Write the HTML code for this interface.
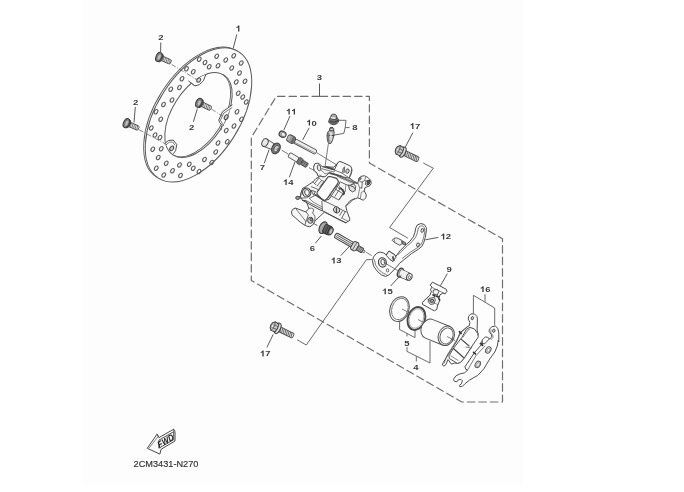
<!DOCTYPE html>
<html><head><meta charset="utf-8"><title>Rear brake caliper - parts diagram</title>
<style>
html,body{margin:0;padding:0;background:#ffffff;}
body{width:684px;height:492px;overflow:hidden;font-family:"Liberation Sans",sans-serif;}
svg{display:block;font-family:"Liberation Sans",sans-serif;}
</style></head><body>
<svg width="684" height="492" viewBox="0 0 684 492">
<defs><filter id="soft" x="-2%" y="-2%" width="104%" height="104%"><feGaussianBlur stdDeviation="0.45"/></filter></defs>
<rect x="0" y="0" width="684" height="492" fill="#ffffff"/>
<g filter="url(#soft)">
<rect x="82.5" y="0" width="440.5" height="486" fill="#fdfdfd"/>
<ellipse cx="196.9" cy="114.2" rx="41.6" ry="74.8" transform="rotate(32.3 196.9 114.2)" stroke="#5a5a5a" stroke-width="0.9" fill="none"/>
<ellipse cx="198.5" cy="114.9" rx="41.6" ry="74.8" transform="rotate(32.3 198.5 114.9)" stroke="#5a5a5a" stroke-width="1.0" fill="#fdfdfd"/>
<clipPath id="inclip"><ellipse cx="198.5" cy="115" rx="26.3" ry="47.4" transform="rotate(32.3 198.5 115)"/></clipPath>
<g clip-path="url(#inclip)">
<ellipse cx="196.9" cy="114.3" rx="26.3" ry="47.4" transform="rotate(32.3 196.9 114.3)" stroke="#5a5a5a" stroke-width="0.9" fill="none"/>
</g>
<ellipse cx="199.25" cy="59.25" rx="1.6" ry="2.3" transform="rotate(32.3 199.25 59.25)" stroke="#5c5c5c" stroke-width="1.05" fill="none"/>
<ellipse cx="205" cy="62.5" rx="1.6" ry="2.3" transform="rotate(32.3 205 62.5)" stroke="#5c5c5c" stroke-width="1.05" fill="none"/>
<ellipse cx="216.75" cy="56.25" rx="1.6" ry="2.3" transform="rotate(32.3 216.75 56.25)" stroke="#5c5c5c" stroke-width="1.05" fill="none"/>
<ellipse cx="225.75" cy="60" rx="1.6" ry="2.3" transform="rotate(32.3 225.75 60)" stroke="#5c5c5c" stroke-width="1.05" fill="none"/>
<ellipse cx="233.75" cy="55.75" rx="1.6" ry="2.3" transform="rotate(32.3 233.75 55.75)" stroke="#5c5c5c" stroke-width="1.05" fill="none"/>
<ellipse cx="241.25" cy="63" rx="1.6" ry="2.3" transform="rotate(32.3 241.25 63)" stroke="#5c5c5c" stroke-width="1.05" fill="none"/>
<ellipse cx="209.25" cy="66.75" rx="1.6" ry="2.3" transform="rotate(32.3 209.25 66.75)" stroke="#5c5c5c" stroke-width="1.05" fill="none"/>
<ellipse cx="218" cy="65.75" rx="1.6" ry="2.3" transform="rotate(32.3 218 65.75)" stroke="#5c5c5c" stroke-width="1.05" fill="none"/>
<ellipse cx="231.75" cy="68" rx="1.6" ry="2.3" transform="rotate(32.3 231.75 68)" stroke="#5c5c5c" stroke-width="1.05" fill="none"/>
<ellipse cx="239.5" cy="73" rx="1.6" ry="2.3" transform="rotate(32.3 239.5 73)" stroke="#5c5c5c" stroke-width="1.05" fill="none"/>
<ellipse cx="186.5" cy="68.75" rx="1.6" ry="2.3" transform="rotate(32.3 186.5 68.75)" stroke="#5c5c5c" stroke-width="1.05" fill="none"/>
<ellipse cx="193.25" cy="71.75" rx="1.6" ry="2.3" transform="rotate(32.3 193.25 71.75)" stroke="#5c5c5c" stroke-width="1.05" fill="none"/>
<ellipse cx="182" cy="78.75" rx="1.6" ry="2.3" transform="rotate(32.3 182 78.75)" stroke="#5c5c5c" stroke-width="1.05" fill="none"/>
<ellipse cx="170.75" cy="89.25" rx="1.6" ry="2.3" transform="rotate(32.3 170.75 89.25)" stroke="#5c5c5c" stroke-width="1.05" fill="none"/>
<ellipse cx="179.5" cy="87.5" rx="1.6" ry="2.3" transform="rotate(32.3 179.5 87.5)" stroke="#5c5c5c" stroke-width="1.05" fill="none"/>
<ellipse cx="163.5" cy="104.5" rx="1.6" ry="2.3" transform="rotate(32.3 163.5 104.5)" stroke="#5c5c5c" stroke-width="1.05" fill="none"/>
<ellipse cx="172" cy="100" rx="1.6" ry="2.3" transform="rotate(32.3 172 100)" stroke="#5c5c5c" stroke-width="1.05" fill="none"/>
<ellipse cx="236.25" cy="82" rx="1.6" ry="2.3" transform="rotate(32.3 236.25 82)" stroke="#5c5c5c" stroke-width="1.05" fill="none"/>
<ellipse cx="245" cy="81.25" rx="1.6" ry="2.3" transform="rotate(32.3 245 81.25)" stroke="#5c5c5c" stroke-width="1.05" fill="none"/>
<ellipse cx="238.25" cy="93.25" rx="1.6" ry="2.3" transform="rotate(32.3 238.25 93.25)" stroke="#5c5c5c" stroke-width="1.05" fill="none"/>
<ellipse cx="242.75" cy="97" rx="1.6" ry="2.3" transform="rotate(32.3 242.75 97)" stroke="#5c5c5c" stroke-width="1.05" fill="none"/>
<ellipse cx="246.25" cy="102" rx="1.6" ry="2.3" transform="rotate(32.3 246.25 102)" stroke="#5c5c5c" stroke-width="1.05" fill="none"/>
<ellipse cx="156" cy="111.75" rx="1.6" ry="2.3" transform="rotate(32.3 156 111.75)" stroke="#5c5c5c" stroke-width="1.05" fill="none"/>
<ellipse cx="160.75" cy="119.25" rx="1.6" ry="2.3" transform="rotate(32.3 160.75 119.25)" stroke="#5c5c5c" stroke-width="1.05" fill="none"/>
<ellipse cx="237" cy="111.75" rx="1.6" ry="2.3" transform="rotate(32.3 237 111.75)" stroke="#5c5c5c" stroke-width="1.05" fill="none"/>
<ellipse cx="241.5" cy="119.25" rx="1.6" ry="2.3" transform="rotate(32.3 241.5 119.25)" stroke="#5c5c5c" stroke-width="1.05" fill="none"/>
<ellipse cx="151.25" cy="128" rx="1.6" ry="2.3" transform="rotate(32.3 151.25 128)" stroke="#5c5c5c" stroke-width="1.05" fill="none"/>
<ellipse cx="234" cy="126" rx="1.6" ry="2.3" transform="rotate(32.3 234 126)" stroke="#5c5c5c" stroke-width="1.05" fill="none"/>
<ellipse cx="226.25" cy="130.5" rx="1.6" ry="2.3" transform="rotate(32.3 226.25 130.5)" stroke="#5c5c5c" stroke-width="1.05" fill="none"/>
<ellipse cx="155" cy="135" rx="1.6" ry="2.3" transform="rotate(32.3 155 135)" stroke="#5c5c5c" stroke-width="1.05" fill="none"/>
<ellipse cx="160" cy="137.5" rx="1.6" ry="2.3" transform="rotate(32.3 160 137.5)" stroke="#5c5c5c" stroke-width="1.05" fill="none"/>
<ellipse cx="152.75" cy="149.25" rx="1.6" ry="2.3" transform="rotate(32.3 152.75 149.25)" stroke="#5c5c5c" stroke-width="1.05" fill="none"/>
<ellipse cx="161.25" cy="148.75" rx="1.6" ry="2.3" transform="rotate(32.3 161.25 148.75)" stroke="#5c5c5c" stroke-width="1.05" fill="none"/>
<ellipse cx="158.25" cy="157.5" rx="1.6" ry="2.3" transform="rotate(32.3 158.25 157.5)" stroke="#5c5c5c" stroke-width="1.05" fill="none"/>
<ellipse cx="166.25" cy="163.25" rx="1.6" ry="2.3" transform="rotate(32.3 166.25 163.25)" stroke="#5c5c5c" stroke-width="1.05" fill="none"/>
<ellipse cx="156.25" cy="168.25" rx="1.6" ry="2.3" transform="rotate(32.3 156.25 168.25)" stroke="#5c5c5c" stroke-width="1.05" fill="none"/>
<ellipse cx="163.75" cy="175" rx="1.6" ry="2.3" transform="rotate(32.3 163.75 175)" stroke="#5c5c5c" stroke-width="1.05" fill="none"/>
<ellipse cx="172.5" cy="170.75" rx="1.6" ry="2.3" transform="rotate(32.3 172.5 170.75)" stroke="#5c5c5c" stroke-width="1.05" fill="none"/>
<ellipse cx="180.5" cy="175.5" rx="1.6" ry="2.3" transform="rotate(32.3 180.5 175.5)" stroke="#5c5c5c" stroke-width="1.05" fill="none"/>
<ellipse cx="179.5" cy="165" rx="1.6" ry="2.3" transform="rotate(32.3 179.5 165)" stroke="#5c5c5c" stroke-width="1.05" fill="none"/>
<ellipse cx="189.25" cy="164.25" rx="1.6" ry="2.3" transform="rotate(32.3 189.25 164.25)" stroke="#5c5c5c" stroke-width="1.05" fill="none"/>
<ellipse cx="193.25" cy="168.25" rx="1.6" ry="2.3" transform="rotate(32.3 193.25 168.25)" stroke="#5c5c5c" stroke-width="1.05" fill="none"/>
<ellipse cx="199" cy="171.5" rx="1.6" ry="2.3" transform="rotate(32.3 199 171.5)" stroke="#5c5c5c" stroke-width="1.05" fill="none"/>
<ellipse cx="204.5" cy="159.5" rx="1.6" ry="2.3" transform="rotate(32.3 204.5 159.5)" stroke="#5c5c5c" stroke-width="1.05" fill="none"/>
<ellipse cx="211.75" cy="162.5" rx="1.6" ry="2.3" transform="rotate(32.3 211.75 162.5)" stroke="#5c5c5c" stroke-width="1.05" fill="none"/>
<ellipse cx="215.75" cy="152" rx="1.6" ry="2.3" transform="rotate(32.3 215.75 152)" stroke="#5c5c5c" stroke-width="1.05" fill="none"/>
<ellipse cx="218" cy="143" rx="1.6" ry="2.3" transform="rotate(32.3 218 143)" stroke="#5c5c5c" stroke-width="1.05" fill="none"/>
<ellipse cx="227.25" cy="141.75" rx="1.6" ry="2.3" transform="rotate(32.3 227.25 141.75)" stroke="#5c5c5c" stroke-width="1.05" fill="none"/>
<ellipse cx="198.5" cy="115" rx="26.3" ry="47.4" transform="rotate(32.3 198.5 115)" stroke="#5a5a5a" stroke-width="1.0" fill="none"/>
<path d="M190,82.1 L195,85.9 L199.3,84.7 L203.4,80.8 L205.8,74.6" stroke="#505050" stroke-width="1.0" fill="#fdfdfd" stroke-linejoin="round" stroke-linecap="round" />
<path d="M188.6,81.0 L193.6,85.0 L195,85.9" stroke="#5a5a5a" stroke-width="0.8" fill="none" stroke-linejoin="round" stroke-linecap="round" />
<ellipse cx="198.7" cy="80.1" rx="1.7" ry="2.3" transform="rotate(32.3 198.7 80.1)" stroke="#4a4a4a" stroke-width="1.0" fill="#e2e2e2"/>
<path d="M232.1,105 L222.5,111.7 L218.8,120 L219.6,122.5 L222.1,125.4 L220.8,130" stroke="#505050" stroke-width="1.0" fill="#fdfdfd" stroke-linejoin="round" stroke-linecap="round" />
<path d="M232,107.6 L223.8,113.0 L220.4,120.2 L223.6,125.6" stroke="#5a5a5a" stroke-width="0.8" fill="none" stroke-linejoin="round" stroke-linecap="round" />
<ellipse cx="226.2" cy="117.2" rx="1.7" ry="2.5" transform="rotate(32.3 226.2 117.2)" stroke="#3f3f3f" stroke-width="1.0" fill="#cfcfcf"/>
<path d="M164.8,143.6 L168.2,140.6 L173.2,140.0 L176.8,144.6 L175.6,150.6 L173.6,153.4" stroke="#505050" stroke-width="1.0" fill="#fdfdfd" stroke-linejoin="round" stroke-linecap="round" />
<path d="M166.4,144.6 L169.2,142.2 L172.6,142.0 L175.0,145.2" stroke="#5a5a5a" stroke-width="0.8" fill="none" stroke-linejoin="round" stroke-linecap="round" />
<ellipse cx="171.7" cy="148.4" rx="1.7" ry="2.5" transform="rotate(32.3 171.7 148.4)" stroke="#3f3f3f" stroke-width="1.0" fill="#cfcfcf"/>
<g transform="translate(158.9 57.0) rotate(23.60411504291424)">
<rect x="2.5" y="-2.3" width="10.486531484580484" height="4.6" rx="1.2" fill="#ededed" stroke="#4a4a4a" stroke-width="0.85"/>
<line x1="4.6" y1="-2.2" x2="5.3" y2="2.2" stroke="#555" stroke-width="0.65"/>
<line x1="6.3" y1="-2.2" x2="7.0" y2="2.2" stroke="#555" stroke-width="0.65"/>
<line x1="8.0" y1="-2.2" x2="8.7" y2="2.2" stroke="#555" stroke-width="0.65"/>
<line x1="9.7" y1="-2.2" x2="10.399999999999999" y2="2.2" stroke="#555" stroke-width="0.65"/>
<line x1="11.399999999999999" y1="-2.2" x2="12.099999999999998" y2="2.2" stroke="#555" stroke-width="0.65"/>
<ellipse cx="1.6" cy="0" rx="2.4" ry="4.2" fill="#6f6f6f" stroke="#3c3c3c" stroke-width="0.9"/>
<ellipse cx="0" cy="0" rx="2.9" ry="4.8" fill="#7c7c7c" stroke="#3c3c3c" stroke-width="1"/>
<ellipse cx="0.3" cy="0" rx="1.3" ry="2.8" fill="#bdbdbd" stroke="none"/>
</g>
<g transform="translate(198.9 102.8) rotate(25.6102099232058)">
<rect x="2.5" y="-2.3" width="10.918271125595869" height="4.6" rx="1.2" fill="#ededed" stroke="#4a4a4a" stroke-width="0.85"/>
<line x1="4.6" y1="-2.2" x2="5.3" y2="2.2" stroke="#555" stroke-width="0.65"/>
<line x1="6.3" y1="-2.2" x2="7.0" y2="2.2" stroke="#555" stroke-width="0.65"/>
<line x1="8.0" y1="-2.2" x2="8.7" y2="2.2" stroke="#555" stroke-width="0.65"/>
<line x1="9.7" y1="-2.2" x2="10.399999999999999" y2="2.2" stroke="#555" stroke-width="0.65"/>
<line x1="11.399999999999999" y1="-2.2" x2="12.099999999999998" y2="2.2" stroke="#555" stroke-width="0.65"/>
<ellipse cx="1.6" cy="0" rx="2.4" ry="4.2" fill="#6f6f6f" stroke="#3c3c3c" stroke-width="0.9"/>
<ellipse cx="0" cy="0" rx="2.9" ry="4.8" fill="#7c7c7c" stroke="#3c3c3c" stroke-width="1"/>
<ellipse cx="0.3" cy="0" rx="1.3" ry="2.8" fill="#bdbdbd" stroke="none"/>
</g>
<g transform="translate(126.4 123.1) rotate(23.48139068260775)">
<rect x="2.5" y="-2.3" width="10.801503674397111" height="4.6" rx="1.2" fill="#ededed" stroke="#4a4a4a" stroke-width="0.85"/>
<line x1="4.6" y1="-2.2" x2="5.3" y2="2.2" stroke="#555" stroke-width="0.65"/>
<line x1="6.3" y1="-2.2" x2="7.0" y2="2.2" stroke="#555" stroke-width="0.65"/>
<line x1="8.0" y1="-2.2" x2="8.7" y2="2.2" stroke="#555" stroke-width="0.65"/>
<line x1="9.7" y1="-2.2" x2="10.399999999999999" y2="2.2" stroke="#555" stroke-width="0.65"/>
<line x1="11.399999999999999" y1="-2.2" x2="12.099999999999998" y2="2.2" stroke="#555" stroke-width="0.65"/>
<ellipse cx="1.6" cy="0" rx="2.4" ry="4.2" fill="#6f6f6f" stroke="#3c3c3c" stroke-width="0.9"/>
<ellipse cx="0" cy="0" rx="2.9" ry="4.8" fill="#7c7c7c" stroke="#3c3c3c" stroke-width="1"/>
<ellipse cx="0.3" cy="0" rx="1.3" ry="2.8" fill="#bdbdbd" stroke="none"/>
</g>
<line x1="236.8" y1="34.5" x2="233.3" y2="48" stroke="#5a5a5a" stroke-width="1" />
<line x1="160.8" y1="42.5" x2="160.6" y2="53" stroke="#5a5a5a" stroke-width="1" />
<line x1="135.3" y1="107" x2="134" y2="122.5" stroke="#5a5a5a" stroke-width="1" />
<line x1="193.4" y1="121.8" x2="197.4" y2="108.6" stroke="#5a5a5a" stroke-width="1" />
<line x1="171.5" y1="64.3" x2="197.5" y2="80" stroke="#5a5a5a" stroke-width="0.7" stroke-dasharray="5 1.5 1 1.5"/>
<line x1="211.5" y1="109" x2="222.5" y2="116.2" stroke="#5a5a5a" stroke-width="0.7" stroke-dasharray="5 1.5 1 1.5"/>
<line x1="138.8" y1="129.6" x2="167.5" y2="145" stroke="#5a5a5a" stroke-width="0.7" stroke-dasharray="5 1.5 1 1.5"/>
<path d="M319.5,96.3 L276.3,96.3 L251.3,137.5 L251.3,280.5 L461.7,402 L502.5,402 L502.5,238.8 L369.4,163 L369.4,96.3 Z" stroke="#6e6e6e" stroke-width="1.2" fill="none" stroke-linejoin="round" stroke-linecap="round" stroke-dasharray="7.5 4"/>
<line x1="319.5" y1="83.5" x2="319.5" y2="96.3" stroke="#5a5a5a" stroke-width="1" />
<path d="M423.6,163.2 L433.3,168.2 L389.6,227.5 L407.5,238" stroke="#5a5a5a" stroke-width="0.9" fill="none" stroke-linejoin="round" stroke-linecap="round" />
<path d="M297.5,340 L306.3,345 L366.5,259.6 L371.5,259.6" stroke="#5a5a5a" stroke-width="0.9" fill="none" stroke-linejoin="round" stroke-linecap="round" />
<line x1="316.6" y1="152.6" x2="336" y2="164.5" stroke="#5a5a5a" stroke-width="0.8" />
<line x1="328.3" y1="144.2" x2="325" y2="166.7" stroke="#5a5a5a" stroke-width="0.8" />
<ellipse cx="282.6" cy="134.2" rx="3.5" ry="3.0" transform="rotate(25 282.6 134.2)" stroke="#4a4a4a" stroke-width="1.3" fill="#bdbdbd"/>
<ellipse cx="283.3" cy="134.5" rx="2.3" ry="1.9" transform="rotate(25 283.3 134.5)" stroke="#666" stroke-width="0.7" fill="#f0f0f0"/>
<line x1="290" y1="116" x2="283.9" y2="130" stroke="#5a5a5a" stroke-width="1" />
<g transform="translate(290.9 139.0) rotate(28)">
<rect x="4" y="-2.3" width="24.6" height="4.6" rx="1.8" fill="#f0f0f0" stroke="#505050" stroke-width="0.9"/>
<line x1="5" y1="1.0" x2="27.5" y2="1.0" stroke="#8a8a8a" stroke-width="0.8"/>
<rect x="-3.8" y="-3.6" width="8.2" height="7.2" rx="2.6" fill="#9a9a9a" stroke="#444" stroke-width="0.9"/>
<rect x="1.0" y="-3.5" width="2.6" height="7.0" rx="0.6" fill="#6a6a6a" stroke="none"/>
<ellipse cx="-2.2" cy="0" rx="1.3" ry="2.6" fill="#b8b8b8" stroke="none"/>
</g>
<line x1="309.2" y1="127.8" x2="302.6" y2="140.0" stroke="#5a5a5a" stroke-width="1" />
<path d="M329.0,120.5 L330.0,117.8 L331.8,116.7 L336.8,117.3 L338.7,119.7 L338.3,122.0 L336.5,124.0 L333.3,124.7 L330.3,123.8 L328.8,122.3 Z" stroke="#3c3c3c" stroke-width="0.9" fill="#6e6e6e" stroke-linejoin="round" stroke-linecap="round" />
<path d="M330.8,117.3 L331.0,115.3 L332.7,114.2 L335.2,114.3 L336.7,115.7 L336.8,118.5 L335.0,119.3 L332.3,119.0 Z" stroke="#3c3c3c" stroke-width="0.9" fill="#a8a8a8" stroke-linejoin="round" stroke-linecap="round" />
<path d="M331.3,117.7 L334.8,118.3" stroke="#ededed" stroke-width="1.4" fill="none" stroke-linejoin="round" stroke-linecap="round" />
<path d="M330.0,121.3 L334.2,122.3 L337.7,120.5" stroke="#2e2e2e" stroke-width="0.8" fill="none" stroke-linejoin="round" stroke-linecap="round" />
<path d="M329.7,128.8 L330.5,127.5 L332.3,127.3 L333.7,128.5 L333.7,130.7 L334.2,133.0 L333.8,135.5 L332.7,139.8 L331.0,143.3 L328.8,143.7 L327.5,140.7 L327.0,135.5 L327.5,132.3 L329.3,130.5 Z" stroke="#3c3c3c" stroke-width="0.9" fill="#c2c2c2" stroke-linejoin="round" stroke-linecap="round" />
<path d="M329.5,130.7 L333.7,130.8" stroke="#333" stroke-width="0.9" fill="none" stroke-linejoin="round" stroke-linecap="round" />
<path d="M327.3,135.3 L333.8,135.5" stroke="#333" stroke-width="0.9" fill="none" stroke-linejoin="round" stroke-linecap="round" />
<path d="M328.2,133.0 L328.8,143.0" stroke="#777" stroke-width="1.6" fill="none" stroke-linejoin="round" stroke-linecap="round" />
<path d="M330.8,133.0 L331.2,139.7" stroke="#efefef" stroke-width="1.2" fill="none" stroke-linejoin="round" stroke-linecap="round" />
<path d="M330.2,128.0 L332.3,127.8" stroke="#3a3a3a" stroke-width="1.2" fill="none" stroke-linejoin="round" stroke-linecap="round" />
<path d="M338.9,120.3 L346,120.3 L345.2,127.6 L343.8,133.4 L334.2,135.1" stroke="#5a5a5a" stroke-width="0.9" fill="none" stroke-linejoin="round" stroke-linecap="round" />
<line x1="345.2" y1="127.6" x2="349.6" y2="127.6" stroke="#5a5a5a" stroke-width="0.9" />
<g transform="translate(265 142.6) rotate(27)">
<path d="M0,-4 L9,-3.2 L9,3.2 L0,4 Z" fill="#f2f2f2" stroke="#5a5a5a" stroke-width="0.9"/>
<ellipse cx="0" cy="0" rx="2.9" ry="4.1" fill="#e8e8e8" stroke="#4a4a4a" stroke-width="1"/>
<ellipse cx="12.4" cy="0.2" rx="4.0" ry="5.7" fill="#7a7a7a" stroke="#3f3f3f" stroke-width="1"/>
<ellipse cx="13.0" cy="0.2" rx="2.3" ry="3.5" fill="#cfcfcf" stroke="#444" stroke-width="0.7"/>
<ellipse cx="14.6" cy="0.2" rx="1.0" ry="1.2" fill="#8a8a8a" stroke="#444" stroke-width="0.5"/>
</g>
<line x1="264.3" y1="163.2" x2="269.1" y2="149.6" stroke="#5a5a5a" stroke-width="1" />
<line x1="281.7" y1="150.2" x2="288.3" y2="154.2" stroke="#5a5a5a" stroke-width="0.8" />
<g transform="translate(289 154.6) rotate(31)">
<rect x="0" y="-2.5" width="10.5" height="5" rx="1.4" fill="#f4f4f4" stroke="#5a5a5a" stroke-width="0.9"/>
<rect x="10.5" y="-3.4" width="4.2" height="6.8" rx="1" fill="#777" stroke="#444" stroke-width="0.8"/>
<rect x="14.7" y="-2.4" width="6.6" height="4.8" rx="1" fill="#8c8c8c" stroke="#444" stroke-width="0.8"/>
<line x1="16" y1="-2.4" x2="16" y2="2.4" stroke="#444" stroke-width="0.6"/>
<line x1="18" y1="-2.4" x2="18" y2="2.4" stroke="#444" stroke-width="0.6"/>
<line x1="20" y1="-2.4" x2="20" y2="2.4" stroke="#444" stroke-width="0.6"/>
</g>
<line x1="289.3" y1="177.3" x2="294.9" y2="162" stroke="#5a5a5a" stroke-width="1" />
<line x1="309" y1="167.6" x2="314" y2="170.5" stroke="#5a5a5a" stroke-width="0.8" />
<g transform="translate(399.6 150.6) rotate(25.94899126867876)">
<rect x="4" y="-2.6" width="16.796634343085408" height="5.2" rx="1.4" fill="#f0f0f0" stroke="#4a4a4a" stroke-width="0.9"/>
<line x1="6.2" y1="-2.4" x2="7.1000000000000005" y2="2.4" stroke="#4a4a4a" stroke-width="0.75"/>
<line x1="7.95" y1="-2.4" x2="8.85" y2="2.4" stroke="#4a4a4a" stroke-width="0.75"/>
<line x1="9.7" y1="-2.4" x2="10.6" y2="2.4" stroke="#4a4a4a" stroke-width="0.75"/>
<line x1="11.45" y1="-2.4" x2="12.35" y2="2.4" stroke="#4a4a4a" stroke-width="0.75"/>
<line x1="13.2" y1="-2.4" x2="14.1" y2="2.4" stroke="#4a4a4a" stroke-width="0.75"/>
<line x1="14.95" y1="-2.4" x2="15.85" y2="2.4" stroke="#4a4a4a" stroke-width="0.75"/>
<line x1="16.7" y1="-2.4" x2="17.599999999999998" y2="2.4" stroke="#4a4a4a" stroke-width="0.75"/>
<line x1="18.45" y1="-2.4" x2="19.349999999999998" y2="2.4" stroke="#4a4a4a" stroke-width="0.75"/>
<ellipse cx="3.4" cy="0" rx="2.7" ry="5.5" fill="#dcdcdc" stroke="#3f3f3f" stroke-width="1"/>
<path d="M-3.6,-2.8 L-1.6,-4.8 L2.6,-4.4 L3.4,0 L2.6,4.4 L-1.6,4.8 L-3.6,2.8 L-4.2,0 Z" fill="#c9c9c9" stroke="#3f3f3f" stroke-width="1"/>
<path d="M-1.6,-4.8 L-0.6,-1.8 L-0.6,1.8 L-1.6,4.8 M-0.6,-1.8 L3.2,-1.4 M-0.6,1.8 L3.2,1.4" fill="none" stroke="#4a4a4a" stroke-width="0.7"/>
<ellipse cx="-2.2" cy="0" rx="1.1" ry="2.0" fill="#eeeeee" stroke="#666" stroke-width="0.5"/>
</g>
<g transform="translate(274.6 326.8) rotate(26.196199323037764)">
<rect x="4" y="-2.6" width="16.8405854044458" height="5.2" rx="1.4" fill="#f0f0f0" stroke="#4a4a4a" stroke-width="0.9"/>
<line x1="6.2" y1="-2.4" x2="7.1000000000000005" y2="2.4" stroke="#4a4a4a" stroke-width="0.75"/>
<line x1="7.95" y1="-2.4" x2="8.85" y2="2.4" stroke="#4a4a4a" stroke-width="0.75"/>
<line x1="9.7" y1="-2.4" x2="10.6" y2="2.4" stroke="#4a4a4a" stroke-width="0.75"/>
<line x1="11.45" y1="-2.4" x2="12.35" y2="2.4" stroke="#4a4a4a" stroke-width="0.75"/>
<line x1="13.2" y1="-2.4" x2="14.1" y2="2.4" stroke="#4a4a4a" stroke-width="0.75"/>
<line x1="14.95" y1="-2.4" x2="15.85" y2="2.4" stroke="#4a4a4a" stroke-width="0.75"/>
<line x1="16.7" y1="-2.4" x2="17.599999999999998" y2="2.4" stroke="#4a4a4a" stroke-width="0.75"/>
<line x1="18.45" y1="-2.4" x2="19.349999999999998" y2="2.4" stroke="#4a4a4a" stroke-width="0.75"/>
<ellipse cx="3.4" cy="0" rx="2.7" ry="5.5" fill="#dcdcdc" stroke="#3f3f3f" stroke-width="1"/>
<path d="M-3.6,-2.8 L-1.6,-4.8 L2.6,-4.4 L3.4,0 L2.6,4.4 L-1.6,4.8 L-3.6,2.8 L-4.2,0 Z" fill="#c9c9c9" stroke="#3f3f3f" stroke-width="1"/>
<path d="M-1.6,-4.8 L-0.6,-1.8 L-0.6,1.8 L-1.6,4.8 M-0.6,-1.8 L3.2,-1.4 M-0.6,1.8 L3.2,1.4" fill="none" stroke="#4a4a4a" stroke-width="0.7"/>
<ellipse cx="-2.2" cy="0" rx="1.1" ry="2.0" fill="#eeeeee" stroke="#666" stroke-width="0.5"/>
</g>
<line x1="412.9" y1="132.6" x2="405.2" y2="147.3" stroke="#5a5a5a" stroke-width="1" />
<line x1="266.9" y1="347.4" x2="273.2" y2="334.4" stroke="#5a5a5a" stroke-width="1" />
<path d="M314.5,165.0 L316.0,163.5 L318.5,164.0 L319.9,166.5 L333.9,167.2 L337.9,162.8 L340.4,161.8 L345.8,164.2 L350.8,167.5 L352.0,170.5 L351.0,174.4 L349.3,177.4 L353.8,182.4 L357.8,183.4 L358.8,178.9 L360.8,176.4 L364.3,175.7 L367.8,177.4 L370.7,180.4 L371.2,183.4 L369.7,185.9 L366.8,186.9 L364.8,187.9 L364.3,190.9 L366.3,194.9 L365.8,197.8 L363.3,200.3 L360.3,198.8 L357.8,197.8 L352.8,199.8 L348.8,203.8 L345.8,205.9 L346.8,210.9 L348.3,214.9 L349.8,218.9 L349.8,220.3 L345.8,222.8 L337.8,218.9 L324.4,212.1 L314.9,221.0 L313.4,224.3 L309.9,226.8 L305.9,225.8 L301.0,222.8 L292.0,214.9 L291.5,211.9 L292.5,209.4 L295.5,208.1 L305.9,211.9 L308.9,208.4 L305.9,200.6 L302.5,200.4 L300.5,196.9 L299.6,198.7 L297.0,199.1 L295.8,197.7 L297.2,196.5 L300.4,196.7 L301.0,193.0 L302.5,188.5 L305.9,186.5 L313.0,181.9 L316.0,178.4 L318.5,177.4 L319.9,174.9 L318.0,173.4 L316.5,172.9 L314.5,170.5 Z" stroke="#505050" stroke-width="1.0" fill="#f7f7f7" stroke-linejoin="round" stroke-linecap="round" />
<path d="M313.8,166.8 L314.6,163.9 L317.1,163.1 L319.2,163.9 L322.5,166.7 L334.3,170.0 L337.9,162.5 L339.8,161.4 L343.3,162.7 L350.7,166.2 L351.8,168.9 L351.2,172.7 L349.8,176.2 L349.2,178.1 L342.5,176.8 L334.2,173.9 L329.3,172.7 L325.0,176.8 L317.9,176.0 L317.1,173.1 L314.2,170.6 Z" stroke="#505050" stroke-width="1.0" fill="#f9f9f9" stroke-linejoin="round" stroke-linecap="round" />
<path d="M317.5,165.6 L318.8,164.8 L320.4,166.0 L320.8,169.8 L319.6,171.0 L317.9,169.8 Z" stroke="#484848" stroke-width="0.9" fill="#e6e6e6" stroke-linejoin="round" stroke-linecap="round" />
<path d="M321.7,168.7 L333.8,172.0 L335.0,170.3" stroke="#5a5a5a" stroke-width="0.8" fill="none" stroke-linejoin="round" stroke-linecap="round" />
<path d="M326.3,166.7 L333.5,169.2" stroke="#484848" stroke-width="1.6" fill="none" stroke-linejoin="round" stroke-linecap="round" />
<path d="M335.0,170.3 L342.1,173.1 L343.2,168.1 L345.0,166.7" stroke="#5a5a5a" stroke-width="0.8" fill="none" stroke-linejoin="round" stroke-linecap="round" />
<path d="M342.1,173.1 L349.2,178.1" stroke="#5a5a5a" stroke-width="0.8" fill="none" stroke-linejoin="round" stroke-linecap="round" />
<path d="M344.3,167.7 L344.0,172.3" stroke="#555" stroke-width="1.3" fill="none" stroke-linejoin="round" stroke-linecap="round" />
<ellipse cx="347.5" cy="171.1" rx="1.6" ry="2.2" transform="rotate(15 347.5 171.1)" stroke="#444" stroke-width="0.9" fill="#e4e4e4"/>
<path d="M330.0,173.2 L341.7,176.5" stroke="#484848" stroke-width="1.6" fill="none" stroke-linejoin="round" stroke-linecap="round" />
<path d="M320.8,169.8 L325.0,173.9 L329.3,172.7" stroke="#5a5a5a" stroke-width="0.7" fill="none" stroke-linejoin="round" stroke-linecap="round" />
<path d="M349.2,178.1 L355.0,181.8 L356.7,183.7" stroke="#5a5a5a" stroke-width="0.9" fill="none" stroke-linejoin="round" stroke-linecap="round" />
<path d="M337.5,176.5 L350.0,181.0 L355.0,183.5" stroke="#5a5a5a" stroke-width="0.8" fill="none" stroke-linejoin="round" stroke-linecap="round" />
<path d="M338.3,181.1 L339.9,182.9 L329.1,199.3 L325.4,200.2" stroke="#4a4a4a" stroke-width="0.9" fill="#e9e9e9" stroke-linejoin="round" stroke-linecap="round" />
<path d="M328.1,176.9 L330.4,176.5 L336.6,178.4 L338.3,181.1 L338.1,182.9 L327.4,198.3 L325.4,200.2 L322.9,200.2 L317.0,194.1 L317.2,191.9 Z" stroke="#4a4a4a" stroke-width="1.1" fill="#fcfcfc" stroke-linejoin="round" stroke-linecap="round" />
<path d="M314.5,183.7 L319.0,177.8" stroke="#5a5a5a" stroke-width="0.9" fill="none" stroke-linejoin="round" stroke-linecap="round" />
<path d="M317.1,186.0 L321.6,180.4" stroke="#5a5a5a" stroke-width="0.9" fill="none" stroke-linejoin="round" stroke-linecap="round" />
<path d="M319.9,186.6 L323.9,181.4" stroke="#5a5a5a" stroke-width="0.9" fill="none" stroke-linejoin="round" stroke-linecap="round" />
<path d="M319.0,177.8 L321.6,180.4 L323.9,181.4" stroke="#5a5a5a" stroke-width="0.7" fill="none" stroke-linejoin="round" stroke-linecap="round" />
<path d="M313.0,181.9 L315.0,184.1 L316.0,184.9" stroke="#5a5a5a" stroke-width="0.8" fill="none" stroke-linejoin="round" stroke-linecap="round" />
<path d="M319.9,174.9 L323.1,177.5" stroke="#5a5a5a" stroke-width="0.7" fill="none" stroke-linejoin="round" stroke-linecap="round" />
<path d="M340.4,181.9 L345.8,184.4 L349.8,185.9 L355.8,181.9" stroke="#5a5a5a" stroke-width="0.9" fill="none" stroke-linejoin="round" stroke-linecap="round" />
<path d="M338.9,175.4 L353.8,182.4" stroke="#5a5a5a" stroke-width="0.9" fill="none" stroke-linejoin="round" stroke-linecap="round" />
<path d="M339.9,177.5 L351.3,182.9" stroke="#5a5a5a" stroke-width="0.7" fill="none" stroke-linejoin="round" stroke-linecap="round" />
<path d="M349.8,185.9 L351.3,188.9 L354.8,189.9 L355.8,186.4 L353.8,184.1 Z" stroke="#444" stroke-width="0.9" fill="#e2e2e2" stroke-linejoin="round" stroke-linecap="round" />
<path d="M340.4,187.9 L342.9,189.7 L344.4,193.1 L343.1,194.5" stroke="#444" stroke-width="1.3" fill="none" stroke-linejoin="round" stroke-linecap="round" />
<path d="M340.4,187.9 L334.9,196.4" stroke="#5a5a5a" stroke-width="0.9" fill="none" stroke-linejoin="round" stroke-linecap="round" />
<path d="M345.3,190.9 L339.1,199.8" stroke="#5a5a5a" stroke-width="0.9" fill="none" stroke-linejoin="round" stroke-linecap="round" />
<path d="M337.7,184.1 L340.4,187.9" stroke="#5a5a5a" stroke-width="0.8" fill="none" stroke-linejoin="round" stroke-linecap="round" />
<path d="M345.8,184.4 L345.3,190.9" stroke="#5a5a5a" stroke-width="0.7" fill="none" stroke-linejoin="round" stroke-linecap="round" />
<path d="M355.8,181.9 L357.8,183.4" stroke="#5a5a5a" stroke-width="0.8" fill="none" stroke-linejoin="round" stroke-linecap="round" />
<path d="M361.8,187.9 L362.3,181.9 L364.8,180.4 L367.0,181.4" stroke="#5a5a5a" stroke-width="0.9" fill="none" stroke-linejoin="round" stroke-linecap="round" />
<path d="M358.8,178.9 L360.3,181.9 L362.3,181.9" stroke="#5a5a5a" stroke-width="0.8" fill="none" stroke-linejoin="round" stroke-linecap="round" />
<path d="M364.8,180.4 L365.4,177.5" stroke="#5a5a5a" stroke-width="0.7" fill="none" stroke-linejoin="round" stroke-linecap="round" />
<ellipse cx="368.5" cy="182.5" rx="1.3" ry="2.3" transform="rotate(20 368.5 182.5)" stroke="#333" stroke-width="1.0" fill="#7a7a7a"/>
<ellipse cx="367.0" cy="182.9" rx="1.5" ry="2.5" transform="rotate(20 367.0 182.9)" stroke="#444" stroke-width="0.8" fill="none"/>
<ellipse cx="360.3" cy="178.4" rx="1.0" ry="1.0" transform="rotate(0 360.3 178.4)" stroke="#444" stroke-width="0.8" fill="#9a9a9a"/>
<path d="M357.8,183.4 L359.8,187.9 L361.8,187.9" stroke="#5a5a5a" stroke-width="0.8" fill="none" stroke-linejoin="round" stroke-linecap="round" />
<path d="M359.8,187.9 L357.8,197.8" stroke="#5a5a5a" stroke-width="0.7" fill="none" stroke-linejoin="round" stroke-linecap="round" />
<path d="M364.3,190.9 L361.3,192.4 L360.3,198.8" stroke="#5a5a5a" stroke-width="0.7" fill="none" stroke-linejoin="round" stroke-linecap="round" />
<path d="M311.4,186.8 L315.9,188.5 L318.9,190.0" stroke="#5a5a5a" stroke-width="0.9" fill="none" stroke-linejoin="round" stroke-linecap="round" />
<path d="M311.4,190.5 L315.4,191.5 L313.9,194.9 Z" stroke="#4a4a4a" stroke-width="0.9" fill="#e8e8e8" stroke-linejoin="round" stroke-linecap="round" />
<ellipse cx="306.7" cy="192.5" rx="4.1" ry="4.5" transform="rotate(-15 306.7 192.5)" stroke="#3c3c3c" stroke-width="1.1" fill="#eeeeee"/>
<ellipse cx="307.0" cy="192.5" rx="2.3" ry="3.0" transform="rotate(-15 307.0 192.5)" stroke="#444" stroke-width="0.9" fill="#fcfcfc"/>
<path d="M301.0,193.0 L300.5,196.9" stroke="#5a5a5a" stroke-width="0.9" fill="none" stroke-linejoin="round" stroke-linecap="round" />
<path d="M309.4,198.4 L315.9,194.9" stroke="#5a5a5a" stroke-width="0.9" fill="none" stroke-linejoin="round" stroke-linecap="round" />
<ellipse cx="297.6" cy="197.9" rx="1.8" ry="1.6" transform="rotate(0 297.6 197.9)" stroke="#444" stroke-width="0.9" fill="#a5a5a5"/>
<path d="M299.5,198.3 L305.9,197.9" stroke="#5a5a5a" stroke-width="0.9" fill="none" stroke-linejoin="round" stroke-linecap="round" />
<path d="M315.4,194.9 L324.4,200.9" stroke="#4a4a4a" stroke-width="1.5" fill="none" stroke-linejoin="round" stroke-linecap="round" />
<path d="M324.4,200.9 L329.3,196.9" stroke="#5a5a5a" stroke-width="0.9" fill="none" stroke-linejoin="round" stroke-linecap="round" />
<path d="M324.4,200.9 L333.8,205.5 L345.8,211.9" stroke="#5a5a5a" stroke-width="0.9" fill="none" stroke-linejoin="round" stroke-linecap="round" />
<path d="M305.9,200.6 L321.9,208.9" stroke="#5a5a5a" stroke-width="0.9" fill="none" stroke-linejoin="round" stroke-linecap="round" />
<path d="M302.5,200.4 L320.9,210.4 L322.9,210.9 L337.8,218.9 L345.8,222.8" stroke="#4a4a4a" stroke-width="1.0" fill="none" stroke-linejoin="round" stroke-linecap="round" />
<path d="M321.9,201.4 L322.4,210.4" stroke="#5a5a5a" stroke-width="0.9" fill="none" stroke-linejoin="round" stroke-linecap="round" />
<path d="M309.4,198.4 L312.9,201.9 L321.9,206.9" stroke="#5a5a5a" stroke-width="0.7" fill="none" stroke-linejoin="round" stroke-linecap="round" />
<path d="M333.8,208.4 L335.3,206.7 L337.8,207.1 L339.6,209.4 L339.3,211.9 L337.3,213.1 L334.8,212.4 L333.6,210.4 Z" stroke="#3f3f3f" stroke-width="1.0" fill="#d9d9d9" stroke-linejoin="round" stroke-linecap="round" />
<path d="M336.4,208.1 L336.4,212.5" stroke="#444" stroke-width="1.2" fill="none" stroke-linejoin="round" stroke-linecap="round" />
<path d="M342.3,210.9 L339.8,215.4" stroke="#5a5a5a" stroke-width="0.9" fill="none" stroke-linejoin="round" stroke-linecap="round" />
<path d="M345.3,211.4 L341.8,218.1" stroke="#5a5a5a" stroke-width="0.9" fill="none" stroke-linejoin="round" stroke-linecap="round" />
<path d="M341.8,218.1 L348.3,221.3" stroke="#5a5a5a" stroke-width="0.7" fill="none" stroke-linejoin="round" stroke-linecap="round" />
<path d="M329.8,194.9 L334.8,187.5 L337.3,186.0" stroke="#5a5a5a" stroke-width="0.9" fill="none" stroke-linejoin="round" stroke-linecap="round" />
<path d="M335.3,189.0 L341.8,193.0 L344.3,194.0" stroke="#5a5a5a" stroke-width="0.9" fill="none" stroke-linejoin="round" stroke-linecap="round" />
<path d="M332.8,196.9 L338.8,199.9 L343.8,192.0" stroke="#5a5a5a" stroke-width="0.9" fill="none" stroke-linejoin="round" stroke-linecap="round" />
<path d="M338.8,188.0 L341.8,189.5 L344.3,193.0 L343.3,194.5" stroke="#444" stroke-width="1.3" fill="none" stroke-linejoin="round" stroke-linecap="round" />
<path d="M329.8,194.9 L332.8,196.9" stroke="#5a5a5a" stroke-width="0.8" fill="none" stroke-linejoin="round" stroke-linecap="round" />
<path d="M348.8,185.0 L353.7,187.0 L355.7,190.0 L352.7,192.0 L349.8,190.0 Z" stroke="#444" stroke-width="0.9" fill="#e2e2e2" stroke-linejoin="round" stroke-linecap="round" />
<path d="M345.8,205.9 L349.8,200.9 L354.7,198.4" stroke="#5a5a5a" stroke-width="0.9" fill="none" stroke-linejoin="round" stroke-linecap="round" />
<path d="M305.9,211.9 L308.4,214.9 L305.9,221.8 L304.9,225.0" stroke="#5a5a5a" stroke-width="0.9" fill="none" stroke-linejoin="round" stroke-linecap="round" />
<path d="M295.5,208.1 L297.5,210.9 L303.9,218.9 L305.9,221.8" stroke="#5a5a5a" stroke-width="0.8" fill="none" stroke-linejoin="round" stroke-linecap="round" />
<path d="M308.9,208.4 L311.4,208.1 L313.9,209.4 L312.7,212.9 L314.9,216.4 L314.9,221.0" stroke="#5a5a5a" stroke-width="0.9" fill="none" stroke-linejoin="round" stroke-linecap="round" />
<ellipse cx="310.4" cy="220.3" rx="2.7" ry="3.0" transform="rotate(0 310.4 220.3)" stroke="#3c3c3c" stroke-width="1.0" fill="#dedede"/>
<ellipse cx="311.3" cy="219.5" rx="1.3" ry="1.6" transform="rotate(0 311.3 219.5)" stroke="#333" stroke-width="0.8" fill="#8a8a8a"/>
<path d="M313.4,223.3 L317.1,225.4" stroke="#5a5a5a" stroke-width="0.9" fill="none" stroke-linejoin="round" stroke-linecap="round" />
<g transform="translate(325.5 228.8) rotate(25)">
<ellipse cx="-2.6" cy="0" rx="3.7" ry="6.2" fill="#a4a4a4" stroke="#3c3c3c" stroke-width="1.1"/>
<rect x="-1.8" y="-4.6" width="8.2" height="9.2" rx="2.4" fill="#5e5e5e" stroke="#333" stroke-width="0.9"/>
<ellipse cx="5.8" cy="0" rx="2.2" ry="4.0" fill="#8c8c8c" stroke="#333" stroke-width="0.8"/>
<ellipse cx="6.0" cy="0.2" rx="1.0" ry="2.2" fill="#c6c6c6" stroke="none"/>
<line x1="1.4" y1="-4.6" x2="1.4" y2="4.6" stroke="#2e2e2e" stroke-width="0.7"/>
<line x1="3.4" y1="-4.6" x2="3.4" y2="4.6" stroke="#2e2e2e" stroke-width="0.7"/>
</g>
<line x1="315.4" y1="243.2" x2="321.4" y2="236.0" stroke="#5a5a5a" stroke-width="1" />
<g transform="translate(335.3 235.0) rotate(30)">
<rect x="0" y="-2.7" width="20" height="5.4" rx="1.6" fill="#f2f2f2" stroke="#444" stroke-width="1"/>
<line x1="1" y1="-0.8" x2="19.5" y2="-0.8" stroke="#4a4a4a" stroke-width="0.8"/>
<line x1="1" y1="1.0" x2="19.5" y2="1.0" stroke="#4a4a4a" stroke-width="0.8"/>
<rect x="24" y="-2.5" width="7.6" height="5.0" rx="1" fill="#b4b4b4" stroke="#3c3c3c" stroke-width="0.9"/>
<line x1="26.2" y1="-2.5" x2="26.2" y2="2.5" stroke="#444" stroke-width="0.55"/>
<line x1="28" y1="-2.5" x2="28" y2="2.5" stroke="#444" stroke-width="0.55"/>
<line x1="29.8" y1="-2.5" x2="29.8" y2="2.5" stroke="#444" stroke-width="0.55"/>
<path d="M19.4,-3.2 L20.8,-4.6 L24.2,-4.6 L25.4,-3.2 L25.4,3.2 L24.2,4.6 L20.8,4.6 L19.4,3.2 Z" fill="#dadada" stroke="#3c3c3c" stroke-width="0.95"/>
<line x1="22.4" y1="-4.6" x2="22.4" y2="4.6" stroke="#444" stroke-width="0.7"/>
<rect x="31.6" y="-1.2" width="2.2" height="2.4" fill="#d0d0d0" stroke="#444" stroke-width="0.6"/>
</g>
<line x1="340.8" y1="255.6" x2="349.4" y2="246.4" stroke="#5a5a5a" stroke-width="1" />
<line x1="366.2" y1="252.2" x2="371.6" y2="255.6" stroke="#5a5a5a" stroke-width="0.8" />
<path d="M392.4,239.9 L393.9,238.4 L396.9,237.9 L401.9,240.4 L402.4,243.4 L399.9,245.4 L394.4,242.4 Z" stroke="#4a4a4a" stroke-width="0.9" fill="#f0f0f0" stroke-linejoin="round" stroke-linecap="round" />
<path d="M402.4,241.1 L405.6,242.7 L405.5,244.9 L402.4,243.9 Z" stroke="#444" stroke-width="0.9" fill="#9a9a9a" stroke-linejoin="round" stroke-linecap="round" />
<path d="M394.1,239.1 L394.7,241.9" stroke="#5a5a5a" stroke-width="0.7" fill="none" stroke-linejoin="round" stroke-linecap="round" />
<path d="M415.8,228.0 L417.3,225.0 L420.8,223.5 L424.3,224.5 L426.3,227.5 L426.3,231.0 L425.3,237.4 L423.8,242.4 L421.8,246.4 L418.8,248.9 L411.8,253.4 L399.4,263.4 L398.4,264.9 L393.9,269.9 L388.9,274.9 L385.4,276.4 L381.4,274.9 L376.9,270.9 L373.5,265.9 L372.5,260.9 L373.5,256.9 L376.5,253.4 L379.9,252.0 L383.4,252.9 L386.4,254.9 L388.9,251.0 L394.9,254.9 L395.7,256.7 L399.9,250.9 L405.8,244.9 L409.8,241.4 L413.3,236.9 L414.8,232.9 Z" stroke="#4c4c4c" stroke-width="1.0" fill="#fcfcfc" stroke-linejoin="round" stroke-linecap="round" />
<path d="M418.3,228.5 L419.8,226.2 L422.3,225.8 L424.3,227.5 L424.8,231.0 L423.8,236.9 L422.3,241.9 L420.3,245.4 L417.8,247.4 L410.8,251.9 L402.4,258.3" stroke="#5a5a5a" stroke-width="0.8" fill="none" stroke-linejoin="round" stroke-linecap="round" />
<path d="M418.3,228.5 L417.3,232.9 L415.8,236.9 L412.3,241.4 L407.8,245.4 L400.9,251.9 L397.9,254.9" stroke="#5a5a5a" stroke-width="0.8" fill="none" stroke-linejoin="round" stroke-linecap="round" />
<ellipse cx="422.3" cy="230.5" rx="1.3" ry="1.8" transform="rotate(25 422.3 230.5)" stroke="#444" stroke-width="0.9" fill="#fcfcfc"/>
<ellipse cx="418.0" cy="244.7" rx="1.3" ry="1.8" transform="rotate(25 418.0 244.7)" stroke="#444" stroke-width="0.9" fill="#fcfcfc"/>
<path d="M374.5,259.9 L375.5,264.9 L378.9,269.9 L383.4,273.4 L386.1,274.5" stroke="#5a5a5a" stroke-width="0.8" fill="none" stroke-linejoin="round" stroke-linecap="round" />
<ellipse cx="382.4" cy="262.4" rx="3.9" ry="4.7" transform="rotate(-10 382.4 262.4)" stroke="#3c3c3c" stroke-width="1.1" fill="#ebebeb"/>
<ellipse cx="382.9" cy="262.1" rx="2.0" ry="2.8" transform="rotate(-10 382.9 262.1)" stroke="#444" stroke-width="0.9" fill="#fcfcfc"/>
<ellipse cx="387.6" cy="270.4" rx="1.2" ry="1.6" transform="rotate(0 387.6 270.4)" stroke="#444" stroke-width="0.8" fill="#fcfcfc"/>
<path d="M386.4,254.9 L388.9,251.0 L394.9,254.9 L395.9,257.4 L392.9,261.4 L390.1,259.5 Z" stroke="#444" stroke-width="0.9" fill="#f2f2f2" stroke-linejoin="round" stroke-linecap="round" />
<path d="M392.9,257.1 L393.9,260.1" stroke="#555" stroke-width="2.0" fill="none" stroke-linejoin="round" stroke-linecap="round" />
<path d="M390.1,259.5 L392.9,261.4" stroke="#5a5a5a" stroke-width="0.8" fill="none" stroke-linejoin="round" stroke-linecap="round" />
<path d="M383.9,262.4 L397.4,270.4" stroke="#5a5a5a" stroke-width="0.8" fill="none" stroke-linejoin="round" stroke-linecap="round" />
<line x1="438.3" y1="237.4" x2="425.4" y2="239.8" stroke="#5a5a5a" stroke-width="1" />
<path d="M401.8,269.5 L410.0,273.3 L407.8,280.4 L400.1,277.1 Z" stroke="#4a4a4a" stroke-width="0.9" fill="#f1f1f1" stroke-linejoin="round" stroke-linecap="round" />
<ellipse cx="400.4" cy="272.6" rx="2.6" ry="4.7" transform="rotate(22 400.4 272.6)" stroke="#3c3c3c" stroke-width="1.3" fill="#d8d8d8"/>
<ellipse cx="401.1" cy="272.9" rx="1.8" ry="3.6" transform="rotate(22 401.1 272.9)" stroke="#555" stroke-width="0.7" fill="#f1f1f1"/>
<path d="M402.2,269.9 L407.8,272.5 L406.8,279.4 L401.1,276.7 Z" stroke="#f1f1f1" stroke-width="0.01" fill="#f1f1f1" stroke-linejoin="round" stroke-linecap="round" />
<ellipse cx="409.3" cy="276.9" rx="2.7" ry="3.5" transform="rotate(22 409.3 276.9)" stroke="#444" stroke-width="1.0" fill="#ededed"/>
<ellipse cx="409.4" cy="277.3" rx="1.2" ry="1.5" transform="rotate(22 409.4 277.3)" stroke="#555" stroke-width="0.7" fill="#fcfcfc"/>
<line x1="390.6" y1="286" x2="399.4" y2="276.6" stroke="#5a5a5a" stroke-width="1" />
<path d="M430.4,284.9 L432.4,282.2 L439.9,285.9 L446.4,289.4 L446.9,291.4 L444.9,293.9 L442.9,293.1 L439.9,294.9 L438.9,298.9 L439.9,299.9 L437.4,305.9 L436.9,309.3 L434.4,310.8 L431.4,309.3 L422.5,304.4 L422.5,302.4 L426.4,298.4 L429.9,295.4 L431.4,291.4 L430.4,289.4 L431.9,287.4 Z" stroke="#484848" stroke-width="1.0" fill="#fcfcfc" stroke-linejoin="round" stroke-linecap="round" />
<path d="M433.9,289.9 L437.4,289.4 L438.9,291.4 L437.4,294.9 L434.4,294.4 L433.1,292.4 Z" stroke="#444" stroke-width="0.9" fill="#f4f4f4" stroke-linejoin="round" stroke-linecap="round" />
<path d="M429.4,298.4 L434.4,297.4 L435.4,299.9 L433.9,303.9 L430.4,304.4 L428.4,301.9 Z" stroke="#444" stroke-width="0.9" fill="#ececec" stroke-linejoin="round" stroke-linecap="round" />
<path d="M430.4,299.9 L433.1,299.3 L433.7,301.1 L432.1,302.5 L430.3,301.9 Z" stroke="#333" stroke-width="0.9" fill="#bdbdbd" stroke-linejoin="round" stroke-linecap="round" />
<path d="M433.1,294.9 L434.9,296.1" stroke="#333" stroke-width="1.8" fill="none" stroke-linejoin="round" stroke-linecap="round" />
<path d="M436.7,296.1 L438.1,296.9" stroke="#333" stroke-width="1.8" fill="none" stroke-linejoin="round" stroke-linecap="round" />
<path d="M438.9,298.9 L439.7,299.9" stroke="#333" stroke-width="1.6" fill="none" stroke-linejoin="round" stroke-linecap="round" />
<path d="M432.1,287.5 L445.1,293.7" stroke="#5a5a5a" stroke-width="0.7" fill="none" stroke-linejoin="round" stroke-linecap="round" />
<path d="M426.5,298.5 L438.1,304.9" stroke="#5a5a5a" stroke-width="0.7" fill="none" stroke-linejoin="round" stroke-linecap="round" />
<line x1="447.4" y1="273.6" x2="440.4" y2="285.8" stroke="#5a5a5a" stroke-width="1" />
<ellipse cx="399.5" cy="309.1" rx="9.5" ry="12.7" transform="rotate(19 399.5 309.1)" stroke="#505050" stroke-width="1.0" fill="none"/>
<ellipse cx="399.9" cy="309.0" rx="8.0" ry="11.0" transform="rotate(19 399.9 309.0)" stroke="#777" stroke-width="0.9" fill="none"/>
<ellipse cx="416.4" cy="318.5" rx="8.6" ry="11.7" transform="rotate(19 416.4 318.5)" stroke="#484848" stroke-width="1.9" fill="none"/>
<ellipse cx="416.4" cy="318.5" rx="7.0" ry="10.0" transform="rotate(19 416.4 318.5)" stroke="#808080" stroke-width="0.6" fill="none"/>
<line x1="402" y1="309" x2="409.5" y2="313" stroke="#5a5a5a" stroke-width="0.8" />
<line x1="418" y1="319.5" x2="425.5" y2="323.5" stroke="#5a5a5a" stroke-width="0.8" />
<path d="M399.6,321.3 L399.6,329.6 L415,337.6 L415,330.4" stroke="#5a5a5a" stroke-width="0.9" fill="none" stroke-linejoin="round" stroke-linecap="round" />
<line x1="407" y1="333.6" x2="407" y2="336.4" stroke="#5a5a5a" stroke-width="0.9" />
<path d="M407,347.6 L407,351.4 L430,363 L430,341.4" stroke="#5a5a5a" stroke-width="0.9" fill="none" stroke-linejoin="round" stroke-linecap="round" />
<line x1="416.3" y1="356.3" x2="416.3" y2="361.4" stroke="#5a5a5a" stroke-width="0.9" />
<g transform="translate(446.3 335.8) rotate(22)">
<path d="M0,-10 L-18.5,-10 A7.9,10 0 0 0 -18.5,10 L0,10 Z" fill="#fcfcfc" stroke="#555" stroke-width="1"/>
<ellipse cx="0" cy="0" rx="7.9" ry="10" fill="#fcfcfc" stroke="#555" stroke-width="1"/>
<ellipse cx="0.3" cy="0" rx="6.3" ry="8.3" fill="#fcfcfc" stroke="#555" stroke-width="0.9"/>
</g>
<line x1="447" y1="336.5" x2="455" y2="340.5" stroke="#5a5a5a" stroke-width="0.8" />
<path d="M468.9,315.9 L470.9,313.9 L474.4,313.9 L476.9,316.4 L477.4,318.9 L477.1,329.9 L478.3,334.9 L474.3,340.0 L471.4,347.0 L464.4,357.9 L460.4,362.4 L457.4,363.4 L454.4,363.1 L451.4,364.1 L448.0,359.5 L446.0,364.5 L444.0,366.1 L442.4,365.1 L443.0,362.9 L448.0,354.9 L456.9,341.0 L459.9,332.9 L466.9,327.1 L469.4,325.4 L469.9,322.4 L468.4,319.4 Z" stroke="#505050" stroke-width="1.0" fill="#fcfcfc" stroke-linejoin="round" stroke-linecap="round" />
<path d="M468.1,326.1 L461.4,332.1 L454.9,342.8" stroke="#5a5a5a" stroke-width="0.8" fill="none" stroke-linejoin="round" stroke-linecap="round" />
<path d="M454.9,343.0 L447.2,355.1 L444.2,363.1" stroke="#5a5a5a" stroke-width="0.8" fill="none" stroke-linejoin="round" stroke-linecap="round" />
<ellipse cx="472.4" cy="318.2" rx="1.2" ry="1.6" transform="rotate(20 472.4 318.2)" stroke="#444" stroke-width="0.9" fill="#d5d5d5"/>
<path d="M466.9,328.9 L469.9,327.4 L474.4,328.9 L477.6,333.4 L478.3,336.9 L471.4,347.0 L464.4,357.9 L460.4,362.4 L457.4,363.4 L449.4,358.5 L448.9,355.9 L453.4,348.5 L461.9,337.4 Z" stroke="#505050" stroke-width="1.0" fill="#fcfcfc" stroke-linejoin="round" stroke-linecap="round" />
<path d="M461.4,339.3 L469.1,346.0" stroke="#444" stroke-width="1.1" fill="none" stroke-linejoin="round" stroke-linecap="round" />
<path d="M453.4,348.5 L463.5,357.5" stroke="#444" stroke-width="1.1" fill="none" stroke-linejoin="round" stroke-linecap="round" />
<path d="M465.9,347.0 L471.1,348.2" stroke="#5a5a5a" stroke-width="0.8" fill="none" stroke-linejoin="round" stroke-linecap="round" />
<path d="M463.1,337.1 L468.1,329.9 L469.9,329.1" stroke="#5a5a5a" stroke-width="0.7" fill="none" stroke-linejoin="round" stroke-linecap="round" />
<path d="M450.9,355.9 L458.1,360.5" stroke="#5a5a5a" stroke-width="0.7" fill="none" stroke-linejoin="round" stroke-linecap="round" />
<path d="M459.5,331.7 L461.1,333.3" stroke="#3a3a3a" stroke-width="1.8" fill="none" stroke-linejoin="round" stroke-linecap="round" />
<path d="M489.8,328.9 L491.8,326.7 L495.3,326.1 L497.8,328.4 L498.8,332.9 L498.8,341.8 L498.3,340.0 L497.3,346.0 L494.8,352.0 L489.8,358.9 L483.8,368.9 L477.8,375.4 L469.9,379.8 L464.9,383.8 L462.4,386.3 L459.9,386.8 L459.4,385.3 L461.4,383.8 L462.4,380.8 L460.9,379.3 L458.4,379.8 L456.9,381.8 L454.4,381.3 L453.4,379.3 L455.9,375.9 L459.9,373.9 L464.4,372.9 L467.9,369.9 L465.9,369.4 L464.9,366.9 L466.9,363.9 L474.3,352.9 L482.8,343.0 L479.8,343.8 L483.8,339.3 L486.8,337.8 L489.8,338.8 L491.8,336.9 L491.3,334.4 L489.3,331.9 Z" stroke="#505050" stroke-width="1.0" fill="#fcfcfc" stroke-linejoin="round" stroke-linecap="round" />
<path d="M484.8,346.0 L475.8,355.9 L469.4,366.9 L468.4,369.1" stroke="#5a5a5a" stroke-width="0.8" fill="none" stroke-linejoin="round" stroke-linecap="round" />
<path d="M491.0,329.9 L490.8,332.9 L492.8,335.1 L493.0,337.5 L491.0,339.6" stroke="#5a5a5a" stroke-width="0.7" fill="none" stroke-linejoin="round" stroke-linecap="round" />
<ellipse cx="493.8" cy="330.7" rx="1.2" ry="1.6" transform="rotate(20 493.8 330.7)" stroke="#444" stroke-width="0.9" fill="#d5d5d5"/>
<ellipse cx="488.3" cy="350.0" rx="2.4" ry="3.5" transform="rotate(32 488.3 350.0)" stroke="#4a4a4a" stroke-width="0.9" fill="#e0e0e0"/>
<ellipse cx="477.8" cy="364.4" rx="2.4" ry="3.5" transform="rotate(32 477.8 364.4)" stroke="#4a4a4a" stroke-width="0.9" fill="#e0e0e0"/>
<ellipse cx="488.5" cy="350.2" rx="1.3" ry="2.2" transform="rotate(32 488.5 350.2)" stroke="#777" stroke-width="0.6" fill="#efefef"/>
<ellipse cx="478.0" cy="364.6" rx="1.3" ry="2.2" transform="rotate(32 478.0 364.6)" stroke="#777" stroke-width="0.6" fill="#efefef"/>
<path d="M482.3,339.8 L485.3,336.9 L487.8,337.4 L489.3,338.8 L484.8,343.8 L482.8,343.3 Z" stroke="#4a4a4a" stroke-width="0.9" fill="#fcfcfc" stroke-linejoin="round" stroke-linecap="round" />
<path d="M473.6,352.4 L475.4,353.9" stroke="#333" stroke-width="1.8" fill="none" stroke-linejoin="round" stroke-linecap="round" />
<path d="M481.0,343.8 L482.6,345.2" stroke="#333" stroke-width="1.8" fill="none" stroke-linejoin="round" stroke-linecap="round" />
<path d="M473.4,313.4 L473.4,295.3 L494.7,308 L494.7,325" stroke="#5a5a5a" stroke-width="0.9" fill="none" stroke-linejoin="round" stroke-linecap="round" />
<line x1="485" y1="294.2" x2="485" y2="301.8" stroke="#5a5a5a" stroke-width="0.9" />
<path d="M147.5,448.0 L157.0,434.2 L159.2,437.5 L173.7,429.2 L175.0,431.7 L175.0,441.0 L161.0,449.3 L160.0,453.7 Z" stroke="#4a4a4a" stroke-width="1.0" fill="#fcfcfc" stroke-linejoin="round" stroke-linecap="round" />
<path d="M157.0,434.2 L158.0,436.7 L149.3,447.7" stroke="#555" stroke-width="0.7" fill="none" stroke-linejoin="round" stroke-linecap="round" />
<path d="M158.0,436.7 L159.2,437.5" stroke="#555" stroke-width="0.7" fill="none" stroke-linejoin="round" stroke-linecap="round" />
<path d="M159.2,440.0 L173.7,431.7 L173.7,439.7 L159.2,448.0 Z" stroke="#444" stroke-width="0.9" fill="#f3f3f3" stroke-linejoin="round" stroke-linecap="round" />
<path d="M173.7,429.2 L173.7,431.7" stroke="#555" stroke-width="0.7" fill="none" stroke-linejoin="round" stroke-linecap="round" />
<text x="0" y="0" transform="translate(158.9 448.2) rotate(-30) skewX(-12) scale(0.86 1)" font-size="8.8" font-weight="bold" fill="#222" style="letter-spacing:0.35px">FWD</text>
<path d="M239.39,31.40 L238.08,31.40 L238.08,27.20 Q237.37,27.77 236.41,28.05 L236.41,27.03 Q236.92,26.90 237.51,26.51 Q238.11,26.12 238.33,25.60 L239.39,25.60 Z" fill="#3a3a3a" stroke="none"/>
<text transform="translate(158.17 40.10) scale(1.17 1)" x="0" y="0" font-size="8.1" font-weight="bold" fill="#3a3a3a">2</text>
<text transform="translate(132.97 104.60) scale(1.17 1)" x="0" y="0" font-size="8.1" font-weight="bold" fill="#3a3a3a">2</text>
<text transform="translate(188.97 130.10) scale(1.17 1)" x="0" y="0" font-size="8.1" font-weight="bold" fill="#3a3a3a">2</text>
<text transform="translate(316.87 80.10) scale(1.17 1)" x="0" y="0" font-size="8.1" font-weight="bold" fill="#3a3a3a">3</text>
<path d="M289.76,114.60 L288.45,114.60 L288.45,110.40 Q287.74,110.97 286.78,111.25 L286.78,110.23 Q287.28,110.10 287.88,109.71 Q288.48,109.32 288.69,108.80 L289.76,108.80 Z" fill="#3a3a3a" stroke="none"/>
<path d="M295.02,114.60 L293.72,114.60 L293.72,110.40 Q293.01,110.97 292.05,111.25 L292.05,110.23 Q292.55,110.10 293.15,109.71 Q293.75,109.32 293.96,108.80 L295.02,108.80 Z" fill="#3a3a3a" stroke="none"/>
<path d="M310.06,125.60 L308.75,125.60 L308.75,121.40 Q308.04,121.97 307.08,122.25 L307.08,121.23 Q307.58,121.10 308.18,120.71 Q308.78,120.32 308.99,119.80 L310.06,119.80 Z" fill="#3a3a3a" stroke="none"/>
<text transform="translate(311.60 125.60) scale(1.17 1)" x="0" y="0" font-size="8.1" font-weight="bold" fill="#3a3a3a">0</text>
<text transform="translate(352.17 129.60) scale(1.17 1)" x="0" y="0" font-size="8.1" font-weight="bold" fill="#3a3a3a">8</text>
<text transform="translate(259.87 170.10) scale(1.17 1)" x="0" y="0" font-size="8.1" font-weight="bold" fill="#3a3a3a">7</text>
<path d="M286.76,185.10 L285.45,185.10 L285.45,180.90 Q284.74,181.47 283.78,181.75 L283.78,180.73 Q284.28,180.60 284.88,180.21 Q285.48,179.82 285.69,179.30 L286.76,179.30 Z" fill="#3a3a3a" stroke="none"/>
<text transform="translate(288.30 185.10) scale(1.17 1)" x="0" y="0" font-size="8.1" font-weight="bold" fill="#3a3a3a">4</text>
<path d="M413.46,128.90 L412.15,128.90 L412.15,124.70 Q411.44,125.27 410.48,125.55 L410.48,124.53 Q410.98,124.40 411.58,124.01 Q412.18,123.62 412.39,123.10 L413.46,123.10 Z" fill="#3a3a3a" stroke="none"/>
<text transform="translate(415.00 128.90) scale(1.17 1)" x="0" y="0" font-size="8.1" font-weight="bold" fill="#3a3a3a">7</text>
<path d="M263.66,356.40 L262.35,356.40 L262.35,352.20 Q261.64,352.77 260.68,353.05 L260.68,352.03 Q261.18,351.90 261.78,351.51 Q262.38,351.12 262.59,350.60 L263.66,350.60 Z" fill="#3a3a3a" stroke="none"/>
<text transform="translate(265.20 356.40) scale(1.17 1)" x="0" y="0" font-size="8.1" font-weight="bold" fill="#3a3a3a">7</text>
<text transform="translate(309.87 250.60) scale(1.17 1)" x="0" y="0" font-size="8.1" font-weight="bold" fill="#3a3a3a">6</text>
<path d="M334.66,263.40 L333.35,263.40 L333.35,259.20 Q332.64,259.77 331.68,260.05 L331.68,259.03 Q332.18,258.90 332.78,258.51 Q333.38,258.12 333.59,257.60 L334.66,257.60 Z" fill="#3a3a3a" stroke="none"/>
<text transform="translate(336.20 263.40) scale(1.17 1)" x="0" y="0" font-size="8.1" font-weight="bold" fill="#3a3a3a">3</text>
<path d="M444.26,239.40 L442.95,239.40 L442.95,235.20 Q442.24,235.77 441.28,236.05 L441.28,235.03 Q441.78,234.90 442.38,234.51 Q442.98,234.12 443.19,233.60 L444.26,233.60 Z" fill="#3a3a3a" stroke="none"/>
<text transform="translate(445.80 239.40) scale(1.17 1)" x="0" y="0" font-size="8.1" font-weight="bold" fill="#3a3a3a">2</text>
<path d="M385.86,294.30 L384.55,294.30 L384.55,290.10 Q383.84,290.67 382.88,290.95 L382.88,289.93 Q383.38,289.80 383.98,289.41 Q384.58,289.02 384.79,288.50 L385.86,288.50 Z" fill="#3a3a3a" stroke="none"/>
<text transform="translate(387.40 294.30) scale(1.17 1)" x="0" y="0" font-size="8.1" font-weight="bold" fill="#3a3a3a">5</text>
<text transform="translate(446.57 271.60) scale(1.17 1)" x="0" y="0" font-size="8.1" font-weight="bold" fill="#3a3a3a">9</text>
<path d="M483.66,292.10 L482.35,292.10 L482.35,287.90 Q481.64,288.47 480.68,288.75 L480.68,287.73 Q481.18,287.60 481.78,287.21 Q482.38,286.82 482.59,286.30 L483.66,286.30 Z" fill="#3a3a3a" stroke="none"/>
<text transform="translate(485.20 292.10) scale(1.17 1)" x="0" y="0" font-size="8.1" font-weight="bold" fill="#3a3a3a">6</text>
<text transform="translate(404.17 345.60) scale(1.17 1)" x="0" y="0" font-size="8.1" font-weight="bold" fill="#3a3a3a">5</text>
<text transform="translate(413.17 369.60) scale(1.17 1)" x="0" y="0" font-size="8.1" font-weight="bold" fill="#3a3a3a">4</text>
<text x="133.6" y="466.9" font-size="8.4" fill="#333" stroke="#333" stroke-width="0.15" textLength="64.8" lengthAdjust="spacingAndGlyphs">2CM3431-N270</text>
</g>
</svg>
</body></html>
